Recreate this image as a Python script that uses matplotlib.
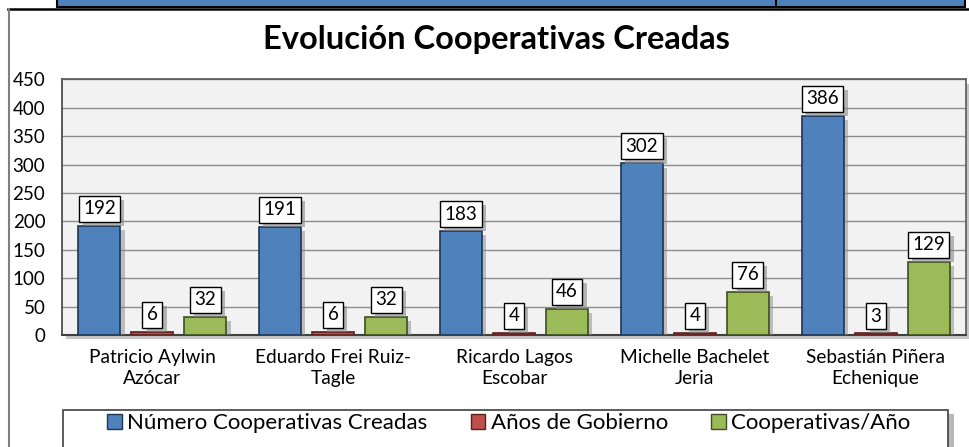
import matplotlib
matplotlib.use("Agg")
import matplotlib.pyplot as plt
import matplotlib.patheffects as pe
from matplotlib.patches import Rectangle
from matplotlib.lines import Line2D
import numpy as np

plt.rcParams['font.family'] = ['Lato', 'DejaVu Sans']

categories = ["Patricio Aylwin\nAzócar", "Eduardo Frei Ruiz-\nTagle", "Ricardo Lagos\nEscobar",
              "Michelle Bachelet\nJeria", "Sebastián Piñera\nEchenique"]
series_names = ["Número Cooperativas Creadas", "Años de Gobierno", "Cooperativas/Año"]
numero = [192, 191, 183, 302, 386]
anios = [6, 6, 4, 4, 3]
coop_anio = [32, 32, 46, 76, 129]
colors = ["#4F81BD", "#C0504D", "#9BBB59"]
edges = ["#1F3550", "#5A1E1C", "#3E4E22"]
yticks = list(range(0, 451, 50))

W, H = 969, 447
fig = plt.figure(figsize=(W / 100, H / 100), dpi=100)
fig.patch.set_facecolor("white")

def fx(px):
    return px / W

def fy(py):
    return 1 - py / H

# top band (table cell remnants)
fig.add_artist(Rectangle((fx(57), fy(7)), fx(965) - fx(57), fy(-2) - fy(7), transform=fig.transFigure,
                         facecolor="#4F81BD", edgecolor="black", linewidth=1.5))
fig.add_artist(Line2D([fx(776), fx(776)], [fy(7), fy(0)], transform=fig.transFigure, color="black", lw=1.5))
# chart frame
fig.add_artist(Line2D([fx(8), fx(969)], [fy(8.5), fy(8.5)], transform=fig.transFigure, color="black", lw=1.8))
fig.add_artist(Line2D([fx(8.5), fx(8.5)], [fy(8.5), fy(447)], transform=fig.transFigure, color="#7f7f7f", lw=1.5))

fig.text(fx(496), fy(39), "Evolución Cooperativas Creadas", ha="center", va="center",
         fontsize=23.5, fontweight="bold", color="black")

ax = fig.add_axes([fx(62), fy(335), fx(966) - fx(62), fy(79.4) - fy(335)])
ax.set_facecolor("#F2F2F2")
ax.patch.set_path_effects([pe.SimplePatchShadow(offset=(3, -3), shadow_rgbFace="#A0A0A0", alpha=0.6), pe.Normal()])
ax.set_ylim(0, 450)
ax.set_xlim(-0.5, 4.5)
ax.set_yticks(yticks)
ax.yaxis.grid(True, color="#8C8C8C", linewidth=1)
ax.set_axisbelow(True)
for s in ["top", "right"]:
    ax.spines[s].set_color("#595959")
    ax.spines[s].set_linewidth(1.2)
ax.spines["left"].set_color("#404040")
ax.spines["bottom"].set_color("#404040")
ax.spines["left"].set_linewidth(1.2)
ax.spines["bottom"].set_linewidth(1.5)
ax.tick_params(axis="y", length=0, pad=12, labelsize=13.5)
ax.tick_params(axis="x", length=0, pad=10, labelsize=13.8)

x = np.arange(len(categories))
step = 0.293
width = 0.232
shadow = [pe.SimplePatchShadow(offset=(3, -3), shadow_rgbFace="#8a8a8a", alpha=0.5), pe.Normal()]
for i, (vals, c, ec, name) in enumerate(zip([numero, anios, coop_anio], colors, edges, series_names)):
    xs = x + (i - 1) * step
    bars = ax.bar(xs, vals, width=width, color=c, edgecolor=ec, linewidth=1.2, label=name, zorder=3)
    for b in bars:
        b.set_path_effects(shadow)
    for xi, v in zip(xs, vals):
        t = ax.annotate(str(v), (xi, v), xytext=(0, 8.5), textcoords="offset pixels",
                        ha="center", va="bottom", fontsize=13.5, zorder=5,
                        bbox=dict(boxstyle="square,pad=0.24", facecolor="white", edgecolor="black", linewidth=1))
        t.get_bbox_patch().set_path_effects([pe.SimplePatchShadow(offset=(3, -3), shadow_rgbFace="#8a8a8a", alpha=0.6), pe.Normal()])

ax.set_xticks(x)
ax.set_xticklabels(categories, linespacing=1.3)

# legend box
fig.add_artist(Rectangle((fx(63), fy(460)), fx(948) - fx(63), fy(410) - fy(460), transform=fig.transFigure,
                         facecolor="white", edgecolor="#404040", linewidth=1.2,
                         path_effects=[pe.SimplePatchShadow(offset=(4, -3), shadow_rgbFace="#8a8a8a", alpha=0.6), pe.Normal()]))
handles = [Rectangle((0, 0), 1, 1, facecolor=c, edgecolor=ec, linewidth=1) for c, ec in zip(colors, edges)]
fig.legend(handles, series_names, loc="center", bbox_to_anchor=(fx(509), fy(423)), ncol=3, frameon=False,
           fontsize=16, handlelength=0.65, handleheight=0.65, handletextpad=0.25, columnspacing=1.95)

fig.savefig("out.png", dpi=100)
